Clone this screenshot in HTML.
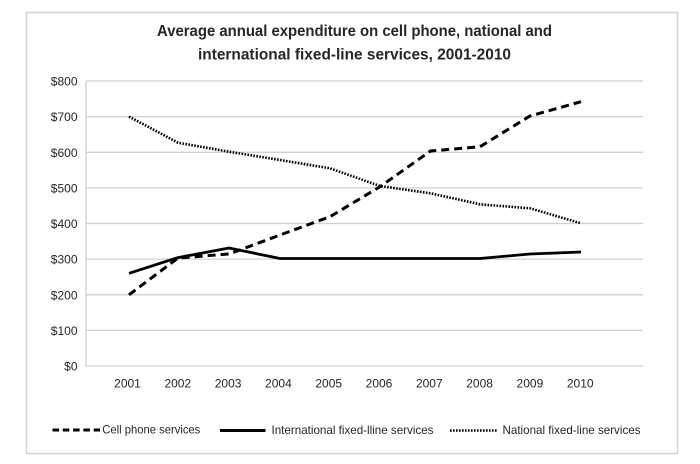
<!DOCTYPE html>
<html><head><meta charset="utf-8"><style>
html,body{margin:0;padding:0;background:#fff;}
svg{display:block;}
text{font-family:"Liberation Sans",sans-serif;fill:#262626;}
</style></head><body>
<svg width="700" height="464" viewBox="0 0 700 464" xmlns="http://www.w3.org/2000/svg">
<rect x="0" y="0" width="700" height="464" fill="#fff"/>
<rect x="26.5" y="12.5" width="651" height="441" fill="none" stroke="#d4d4d4" stroke-width="1.5"/>
<text x="354.5" y="36" text-anchor="middle" font-size="15.5" font-weight="bold" textLength="395" lengthAdjust="spacingAndGlyphs">Average annual expenditure on cell phone, national and</text>
<text x="354.5" y="59.5" text-anchor="middle" font-size="15.5" font-weight="bold" textLength="313" lengthAdjust="spacingAndGlyphs">international fixed-line services, 2001-2010</text>
<g stroke="#d0d0d0" stroke-width="1.3">
<line x1="86" y1="81" x2="643" y2="81"/>
<line x1="86" y1="116.6" x2="643" y2="116.6"/>
<line x1="86" y1="152.3" x2="643" y2="152.3"/>
<line x1="86" y1="187.9" x2="643" y2="187.9"/>
<line x1="86" y1="223.5" x2="643" y2="223.5"/>
<line x1="86" y1="259.1" x2="643" y2="259.1"/>
<line x1="86" y1="294.8" x2="643" y2="294.8"/>
<line x1="86" y1="330.4" x2="643" y2="330.4"/>
<line x1="86" y1="366" x2="643" y2="366"/>
<line x1="86" y1="81" x2="86" y2="366"/>
</g>
<g font-size="12" text-anchor="end">
<text x="77.5" y="85.5">$800</text>
<text x="77.5" y="121.1">$700</text>
<text x="77.5" y="156.8">$600</text>
<text x="77.5" y="192.4">$500</text>
<text x="77.5" y="228">$400</text>
<text x="77.5" y="263.6">$300</text>
<text x="77.5" y="299.3">$200</text>
<text x="77.5" y="334.9">$100</text>
<text x="77.5" y="370.5">$0</text>
</g>
<g font-size="12" text-anchor="middle">
<text x="127.5" y="387.5">2001</text>
<text x="177.8" y="387.5">2002</text>
<text x="228.1" y="387.5">2003</text>
<text x="278.4" y="387.5">2004</text>
<text x="328.7" y="387.5">2005</text>
<text x="379" y="387.5">2006</text>
<text x="429.3" y="387.5">2007</text>
<text x="479.6" y="387.5">2008</text>
<text x="529.9" y="387.5">2009</text>
<text x="580.2" y="387.5">2010</text>
</g>
<!-- National (dotted) -->
<polyline fill="none" stroke="#000" stroke-width="2.6" stroke-dasharray="1.6 1.4" points="129,116.6 178,142.7 229,151.7 280,160 330,168.3 380,186 430.5,193.3 480,204.3 530,208.3 581,223.3"/>
<!-- International (solid) -->
<polyline fill="none" stroke="#000" stroke-width="2.8" stroke-linejoin="round" points="129,273.3 178,257.6 229,248 280,258.5 330,258.5 380,258.5 430.5,258.5 480,258.5 530,254 581,252"/>
<!-- Cell phone (dashed) -->
<polyline fill="none" stroke="#000" stroke-width="3" stroke-dasharray="8 5" points="129,294.8 178,258 229,254 280,235 330,216.7 380,186.7 430.5,151 480,146.7 530,116 581,101.7"/>
<!-- Legend -->
<line x1="52.5" y1="430" x2="100" y2="430" stroke="#000" stroke-width="3" stroke-dasharray="6.5 3.8"/>
<text x="102.3" y="433.5" font-size="12" textLength="98" lengthAdjust="spacingAndGlyphs">Cell phone services</text>
<line x1="220" y1="430.5" x2="265.5" y2="430.5" stroke="#000" stroke-width="3"/>
<text x="271.5" y="434" font-size="12" textLength="162" lengthAdjust="spacingAndGlyphs">International fixed-lline services</text>
<line x1="450" y1="430.5" x2="497.5" y2="430.5" stroke="#000" stroke-width="2.6" stroke-dasharray="1.6 1.4"/>
<text x="502.5" y="434" font-size="12" textLength="138" lengthAdjust="spacingAndGlyphs">National fixed-line services</text>
</svg>
</body></html>
